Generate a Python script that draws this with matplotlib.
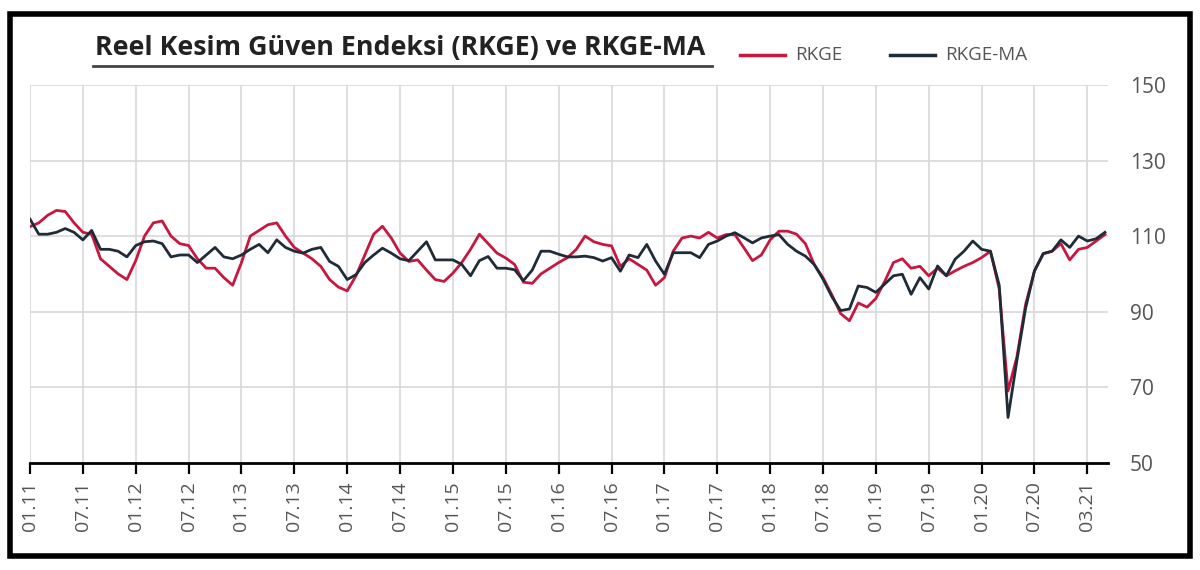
import matplotlib.pyplot as plt
from matplotlib.patches import Rectangle
from matplotlib.lines import Line2D

# aylik veriler 01.11 - 03.21 (123 ay)
rkge = [112.5, 113.5, 115.5, 116.8, 116.5, 113.5, 111, 110.5, 104, 102,
        100, 98.5, 103.5, 110, 113.5, 114, 110, 108, 107.5, 104,
        101.5, 101.5, 99, 97, 103, 110, 111.5, 113, 113.5, 110,
        107, 105.5, 104, 102, 98.5, 96.5, 95.5, 99.5, 105, 110.5,
        112.6, 109.5, 105.5, 103.3, 103.7, 101, 98.5, 98, 100.2, 103,
        106.5, 110.5, 108, 105.5, 104.2, 102.5, 97.8, 97.5, 100, 101.5,
        103, 104.3, 106.5, 110, 108.5, 107.8, 107.4, 102, 104, 102.5,
        101, 97, 99, 106, 109.5, 110, 109.5, 111, 109.5, 110.4,
        110.4, 107, 103.5, 105, 109, 111.3, 111.3, 110.5, 108, 102.5,
        99, 94.5, 89.5, 87.6, 92.3, 91.2, 93.5, 98, 103, 104,
        101.5, 102, 99.5, 101.5, 99.5, 100.8, 102, 103, 104.3, 106,
        96, 69, 78, 92, 100.8, 105.3, 106, 108, 103.7, 106.5,
        107, 108.7, 110.4]

rkge_ma = [114.5, 110.5, 110.5, 111, 112, 111, 109, 111.5, 106.5, 106.5,
           106, 104.5, 107.5, 108.5, 108.7, 108, 104.5, 105, 105, 103,
           105, 107, 104.5, 104, 105, 106.5, 107.8, 105.6, 109, 107,
           106, 105.5, 106.5, 107, 103.3, 102, 98.5, 99.8, 103, 105,
           106.8, 105.5, 104, 103.5, 106, 108.5, 103.7, 103.7, 103.7, 102.5,
           99.5, 103.5, 104.6, 101.5, 101.5, 101.1, 98.2, 101, 106, 106,
           105.2, 104.5, 104.5, 104.7, 104.3, 103.4, 104.3, 100.7, 105, 104.3,
           107.8, 103.4, 99.9, 105.6, 105.6, 105.6, 104.3, 107.8, 108.7, 110,
           110.9, 109.6, 108.2, 109.5, 110, 110.4, 107.8, 106, 104.7, 102.5,
           98.6, 94, 90.3, 90.7, 96.8, 96.4, 95.1, 97.3, 99.5, 99.9,
           94.6, 99, 96, 102.1, 99.5, 103.9, 106, 108.7, 106.5, 106,
           97, 62, 77, 91, 100.8, 105.4, 106, 109, 107, 110,
           108.7, 109.3, 111]

tick_labels = ['01.11', '07.11', '01.12', '07.12', '01.13', '07.13', '01.14',
               '07.14', '01.15', '07.15', '01.16', '07.16', '01.17', '07.17',
               '01.18', '07.18', '01.19', '07.19', '01.20', '07.20', '03.21']

red = '#c8173f'
dark = '#1f2c38'
gray = '#555555'

plt.rcParams['font.family'] = ['Open Sans', 'DejaVu Sans']

fig = plt.figure(figsize=(12, 5.7), dpi=100)
ax = fig.add_axes([0.025, 0.188, 0.898, 0.663])

x = list(range(len(rkge)))
ax.plot(x, rkge, color=red, lw=2.0, zorder=3)
ax.plot(x, rkge_ma, color=dark, lw=2.0, zorder=4)

ax.set_xlim(0, 122.3)
ax.set_ylim(50, 150)
ax.set_yticks([50, 70, 90, 110, 130, 150])
ax.set_xticks(range(0, 121, 6))
ax.set_xticklabels(tick_labels, rotation=90)

ax.yaxis.tick_right()
ax.tick_params(axis='y', length=0, pad=16, labelsize=15, labelcolor=gray)
ax.tick_params(axis='x', length=8, width=1.6, color='black', pad=5,
               labelsize=14, labelcolor=gray)
ax.grid(True, color='#d8d8d8', lw=1.2)
ax.set_axisbelow(True)
for s in ['top', 'left', 'right']:
    ax.spines[s].set_visible(False)
ax.spines['bottom'].set_linewidth(2)

# baslik ve alt cizgi
fig.text(95 / 1200, 1 - 48 / 570, 'Reel Kesim Güven Endeksi (RKGE) ve RKGE-MA',
         fontsize=19.3, fontweight='bold', color='#222222',
         va='center', ha='left')
fig.add_artist(Line2D([93 / 1200, 712 / 1200], [1 - 66 / 570, 1 - 66 / 570],
                      color='#444444', lw=2))

# lejant
fig.add_artist(Line2D([740 / 1200, 785 / 1200], [1 - 55 / 570] * 2, color=red, lw=2.5))
fig.text(795 / 1200, 1 - 55 / 570, 'RKGE', fontsize=13.5, color=gray, va='center')
fig.add_artist(Line2D([890 / 1200, 935 / 1200], [1 - 55 / 570] * 2, color=dark, lw=2.5))
fig.text(945 / 1200, 1 - 55 / 570, 'RKGE-MA', fontsize=13.5, color=gray, va='center')

# cerceve
fig.add_artist(Rectangle((10 / 1200, 1 - 556 / 570), 1180 / 1200, 542 / 570,
                         fill=False, ec='black', lw=4, transform=fig.transFigure))

fig.savefig('out.png', dpi=100, facecolor='white')
